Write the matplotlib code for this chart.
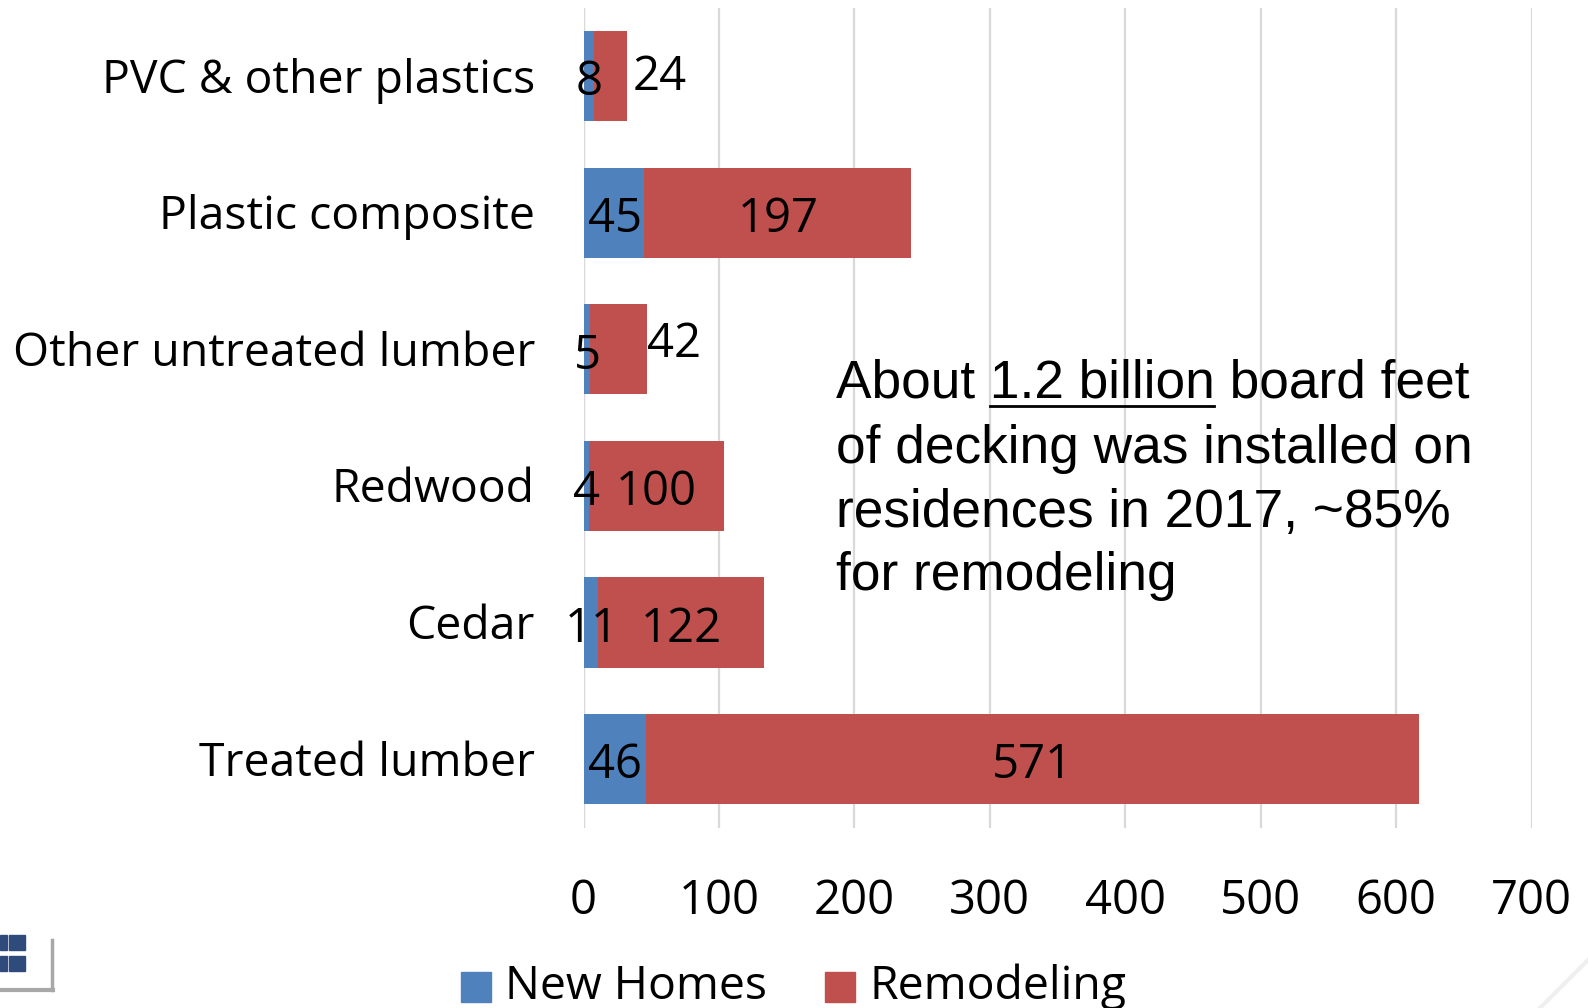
import matplotlib
matplotlib.use("Agg")
import matplotlib.pyplot as plt
from matplotlib.patches import Rectangle
from matplotlib.transforms import ScaledTranslation

categories = ["Treated lumber", "Cedar", "Redwood", "Other untreated lumber", "Plastic composite", "PVC & other plastics"]
new_homes = [46, 11, 4, 5, 45, 8]
remodeling = [571, 122, 100, 42, 197, 24]
ticks = [0, 100, 200, 300, 400, 500, 600, 700]

W, H = 1588, 1008
fig = plt.figure(figsize=(W/100, H/100), dpi=100)
x0, x1 = 583.5, 1531.5
y_top, y_bot = 8, 828
ax = fig.add_axes([x0/W, 1-y_bot/H, (x1-x0)/W, (y_bot-y_top)/H])
ax.set_xlim(0, 700)
ax.set_ylim(-0.505, 5.50)
F = 'Open Sans'
fs = 34
fs2 = 33.4
BLUE, RED = '#4F81BD', '#C0504D'
ax.barh(range(6), new_homes, height=0.66, color=BLUE, zorder=3)
ax.barh(range(6), remodeling, left=new_homes, height=0.66, color=RED, zorder=3)
ax.set_yticks(range(6), categories, fontsize=fs2, family=F, color='black')
ax.set_xticks(ticks, [str(t) for t in ticks], fontsize=fs, family=F, color='black')
ax.tick_params(axis='both', length=0)
ax.tick_params(axis='x', pad=36)
ax.tick_params(axis='y', pad=35)
ax.grid(axis='x', color='#D9D9D9', lw=1.6, zorder=0)
ax.set_axisbelow(True)
for s in ax.spines.values():
    s.set_visible(False)
ax.axvline(0, color='#D9D9D9', lw=1.6, zorder=1)
shift = ScaledTranslation(0, 1/100, fig.dpi_scale_trans)
for lab in ax.get_yticklabels():
    lab.set_transform(lab.get_transform() + shift)

for i, (a, b) in enumerate(zip(new_homes, remodeling)):
    ax.text(a/2 + 0.5, i-0.047, str(a), ha='center', va='center', fontsize=fs, family=F, zorder=5)
    if b > 60:
        ax.text(a + b/2, i-0.047, str(b), ha='center', va='center', fontsize=fs, family=F, zorder=5)
    else:
        ax.text(a + b + 0 if b > 30 else a + b + 4, i+(0.035 if b > 30 else -0.005), str(b), ha='left', va='center', fontsize=fs, family=F, zorder=5)

# annotation
note = ["About 1.2 billion board feet", "of decking was installed on", "residences in 2017, ~85%", "for remodeling"]
ys = [384, 449, 513, 576]
for s, y in zip(note, ys):
    fig.text(836/W, 1-y/H, s, fontsize=38.3, family='Liberation Sans', va='center', ha='left')
fig.add_artist(plt.Line2D([990/W, 1214/W], [1-406/H, 1-406/H], color='black', lw=2))

# legend
leg_y = 987
for xp, c, s in [(461, BLUE, 'New Homes'), (825, RED, 'Remodeling')]:
    fig.add_artist(Rectangle((xp/W, 1-(leg_y+15)/H), 30/W, 30/H, color=c, transform=fig.transFigure))
    fig.text((xp+44)/W, 1-leg_y/H, s, fontsize=fs2, family=F, va='center', ha='left')

# remnant of the slide's house icon, bottom-left corner
for (wx, wy, ww) in [(0, 935, 7), (9, 935, 16), (0, 956, 7), (9, 956, 16)]:
    fig.add_artist(Rectangle((wx/W, 1-(wy+15)/H), ww/W, 15/H, color='#2F4B7C', transform=fig.transFigure))
fig.add_artist(plt.Line2D([0, 53/W], [1-990/H, 1-990/H], color='#A8A8A8', lw=3))
fig.add_artist(plt.Line2D([52/W, 52/W], [1-990/H, 1-940/H], color='#A8A8A8', lw=2.5))
# faint remnant, bottom-right corner
fig.add_artist(plt.Line2D([1540/W, 1588/W], [1-1008/H, 1-960/H], color='#EFEFEF', lw=3))

fig.savefig('out.png', dpi=100)
